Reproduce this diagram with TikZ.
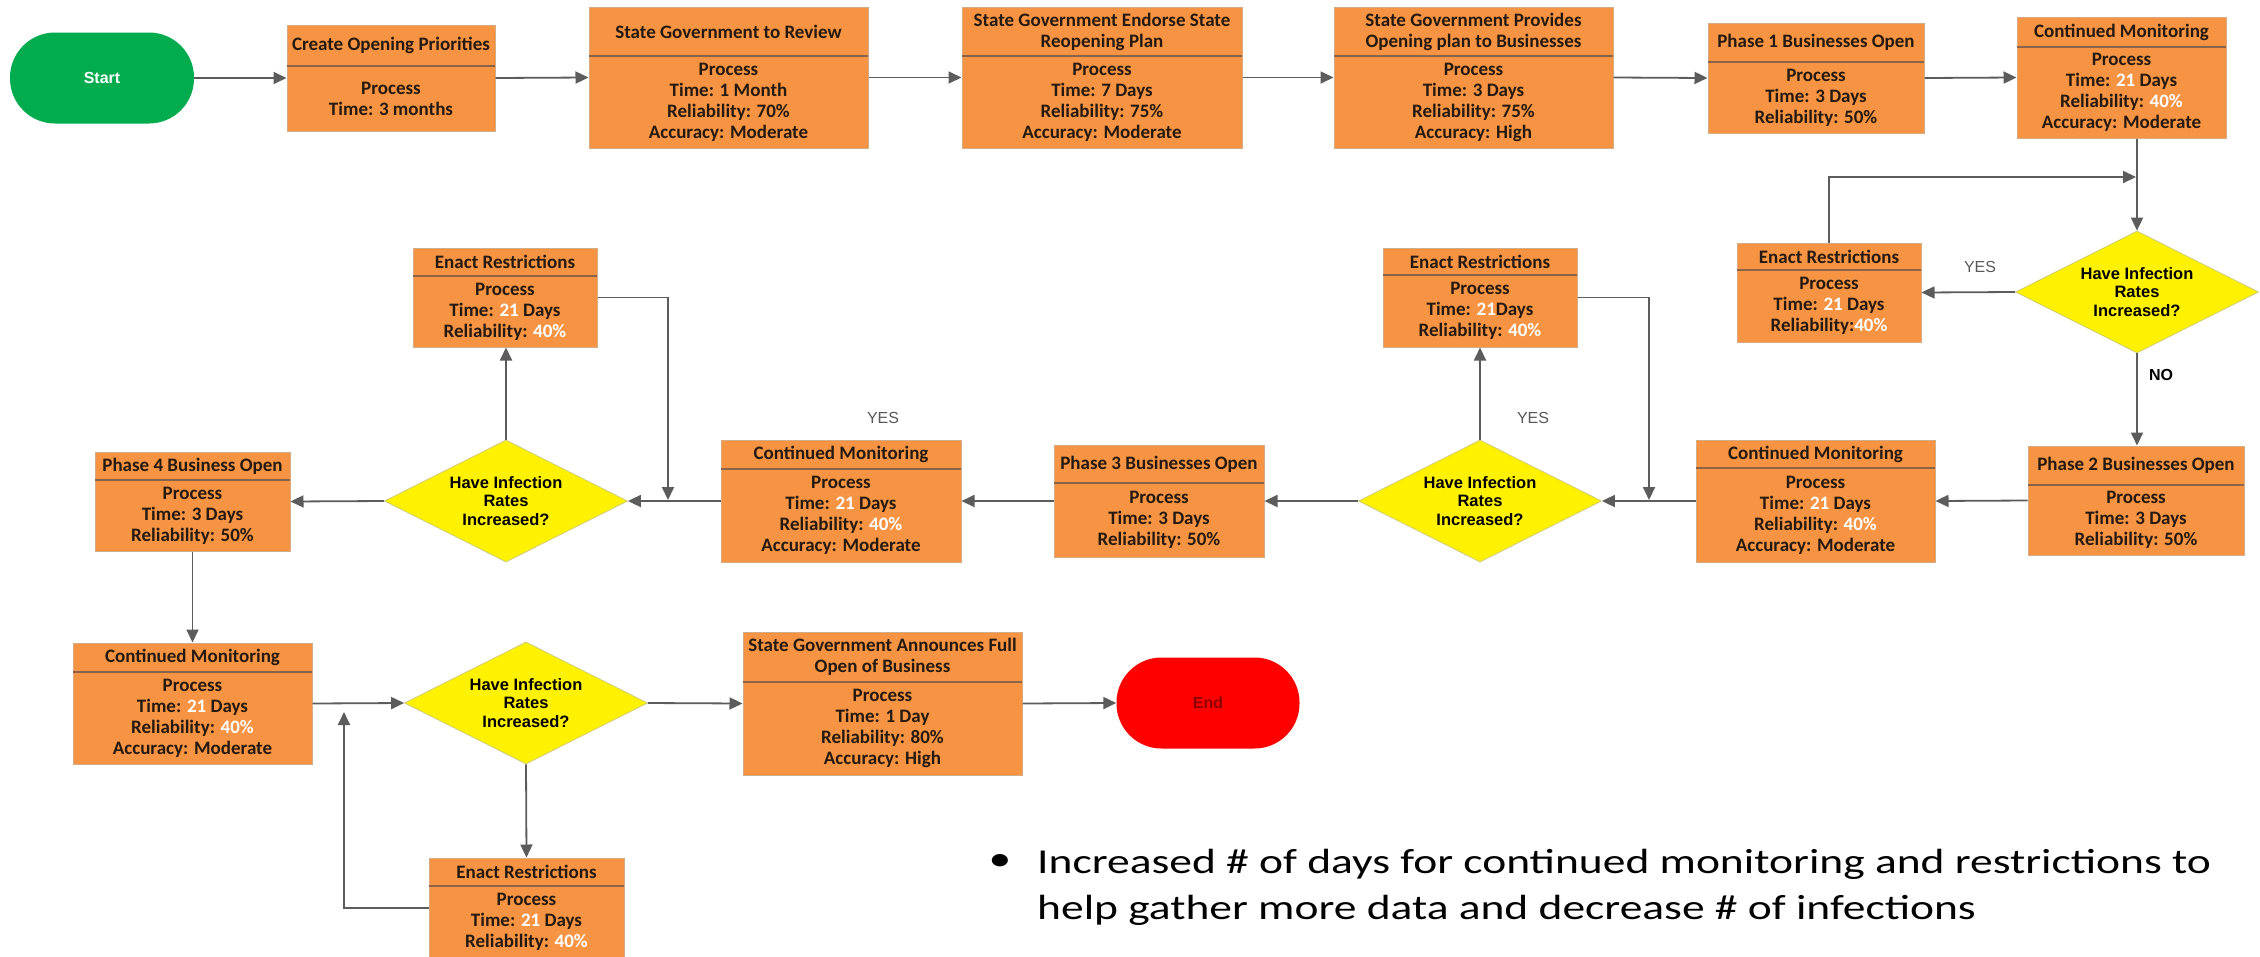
\documentclass[tikz,border=0pt]{standalone}
\usepackage{fontspec}
\setmainfont{Carlito}
\newfontfamily\arialfont{Liberation Sans}
\newfontfamily\notefont[FakeStretch=1.3]{Carlito}
\usetikzlibrary{shapes.geometric,arrows.meta}
\definecolor{boxfill}{RGB}{246,148,68}
\definecolor{boxedge}{RGB}{214,172,134}
\definecolor{divcol}{RGB}{138,100,72}
\definecolor{inkdark}{RGB}{38,26,16}
\definecolor{startgreen}{RGB}{0,172,78}
\definecolor{endred}{RGB}{255,0,0}
\definecolor{endtext}{RGB}{140,0,0}
\definecolor{diamondedge}{RGB}{205,205,120}
\definecolor{flowgray}{RGB}{92,92,92}
\newcommand\wh[1]{\textcolor{white}{#1}}

\begin{document}
\begin{tikzpicture}[x=1pt,y=-1pt,
    procbox/.style={draw=boxedge,fill=boxfill,line width=1pt,inner sep=0pt},
    divline/.style={draw=divcol,line width=1.6pt},
    boxtext/.style={font=\bfseries\fontsize{19}{21}\selectfont,text=inkdark,align=center,inner sep=0pt},
    decision/.style={diamond,aspect=2,draw=diamondedge,fill=yellow,line width=0.8pt,inner sep=0pt,
      minimum width=243pt,minimum height=122pt,align=center,
      font=\arialfont\bfseries\fontsize{16.5}{18.5}\selectfont},
    term/.style={rounded corners=45pt,minimum width=184pt,minimum height=91pt,inner sep=0pt,
      font=\arialfont\bfseries\fontsize{16}{18}\selectfont},
    flow/.style={draw=flowgray,line width=1.8pt,-{Triangle[length=13pt,width=12pt]}},
    answer/.style={font=\arialfont\fontsize{16}{18}\selectfont,text=black!65},
    notetext/.style={font=\notefont\fontsize{35}{46}\selectfont,inner sep=0pt}]
  \path[fill=white,use as bounding box] (0,0) rectangle (2260,956);

  % start and end
  \node[term,fill=startgreen,text=white] (start) at (102,78) {Start};
  \node[term,fill=endred,text=endtext,minimum width=183pt] (end) at (1208,703) {End};

  % process boxes: name/centre x/top/divider/bottom/width/header/body
  \foreach \n/\cx/\tp/\dv/\bt/\bw/\hd/\bd in {
      create/391/25/66/131/208/{Create Opening Priorities}/{Process\\Time: 3 months},
      review/728.5/7/56/148/279/{State Government to Review}/{Process\\Time: 1 Month\\Reliability: 70\%\\Accuracy: Moderate},
      endorse/1102/7/56/148/280/{State Government Endorse State\\Reopening Plan}/{Process\\Time: 7 Days\\Reliability: 75\%\\Accuracy: Moderate},
      provides/1473.5/7/56/148/279/{State Government Provides\\Opening plan to Businesses}/{Process\\Time: 3 Days\\Reliability: 75\%\\Accuracy: High},
      phase1/1816/23/62/133/216/{Phase 1 Businesses Open}/{Process\\Time: 3 Days\\Reliability: 50\%},
      cm1/2121.5/17/47/138/209/{Continued Monitoring}/{Process\\Time: \wh{21} Days\\Reliability: \wh{40\%}\\Accuracy: Moderate},
      er1/1829/243/270/342/184/{Enact Restrictions}/{Process\\Time: \wh{21} Days\\Reliability:\wh{40\%}},
      phase2/2136/446/485/555/216/{Phase 2 Businesses Open}/{Process\\Time: 3 Days\\Reliability: 50\%},
      cm2/1815.5/440/468/562/239/{Continued Monitoring}/{Process\\Time: \wh{21} Days\\Reliability: \wh{40\%}\\Accuracy: Moderate},
      er2/1480/248/275/347/194/{Enact Restrictions}/{Process\\Time: \wh{21}Days\\Reliability: \wh{40\%}},
      phase3/1159/445/483/557/210/{Phase 3 Businesses Open}/{Process\\Time: 3 Days\\Reliability: 50\%},
      cm3/841/440/469/562/240/{Continued Monitoring}/{Process\\Time: \wh{21} Days\\Reliability: \wh{40\%}\\Accuracy: Moderate},
      er3/505/248/276/347/184/{Enact Restrictions}/{Process\\Time: \wh{21} Days\\Reliability: \wh{40\%}},
      phase4/192.5/452/480/551/195/{Phase 4 Business Open}/{Process\\Time: 3 Days\\Reliability: 50\%},
      cm4/192.5/643/672/764/239/{Continued Monitoring}/{Process\\Time: \wh{21} Days\\Reliability: \wh{40\%}\\Accuracy: Moderate},
      full/882.5/632/682/775/279/{State Government Announces Full\\Open of Business}/{Process\\Time: 1 Day\\Reliability: 80\%\\Accuracy: High},
      er4/526.5/858/886/958/195/{Enact Restrictions}/{Process\\Time: \wh{21} Days\\Reliability: \wh{40\%}}}{
    \node[procbox,minimum width=\bw pt,minimum height={(\bt-\tp)*1pt}] (\n) at (\cx,{(\tp+\bt)/2}) {};
    \draw[divline] ({\cx-\bw/2},\dv) -- ({\cx+\bw/2},\dv);
    \node[boxtext] at (\cx,{(\tp+\dv)/2}) {\hd};
    \node[boxtext] at (\cx,{(\dv+\bt)/2}) {\bd};
  }

  % decisions
  \foreach \n/\cx/\cy in {d1/2137/292,d2/1480/501,d3/506/501,d4/526/703}
    \node[decision] (\n) at (\cx,\cy) {Have Infection\\Rates\\Increased?};

  % free ends of the loop-back lines
  \coordinate (j1) at (2136,177);
  \coordinate (j2) at (1649,500);
  \coordinate (j3) at (668,500);
  \coordinate (j4) at (344,712);

  % connectors
  \foreach \src/\dst in {start/create,create/review,review/endorse,endorse/provides,
      provides/phase1,phase1/cm1,cm4/d4,d4/full,full/end}
    \draw[flow] (\src.east) -- (\dst.west);
  \foreach \src/\dst in {d1/er1,phase2/cm2,cm2/d2,d2/phase3,phase3/cm3,cm3/d3,d3/phase4}
    \draw[flow] (\src.west) -- (\dst.east);
  \draw[flow] (cm1.south -| d1.north) -- (d1.north);
  \draw[flow] (d1.south) -- (d1.south |- phase2.north);
  \draw[flow] (d2.north) -- (er2.south);
  \draw[flow] (d3.north) -- (d3.north |- er3.south);
  \draw[flow] (phase4.south) -- (cm4.north);
  \draw[flow] (d4.south) -- (er4.north);
  \draw[flow] (er1.north) |- (j1);
  \draw[flow] (er2.east) -| (j2);
  \draw[flow] (er3.east) -| (j3);
  \draw[flow] (er4.west) -| (j4);

  % answers
  \node[answer] (yes1) at (1980,267) {YES};
  \node[answer] (yes2) at (1533,418) {YES};
  \node[answer] (yes3) at (883,418) {YES};
  \node[answer,text=black,font=\arialfont\bfseries\fontsize{16}{18}\selectfont] (no1) at (2161,375) {NO};

  % note
  \node[notetext] (dot) at (1000,862) {\textbullet};
  \node[notetext,anchor=north west,align=left] (note) at (1037,849)
    {Increased \# of days for continued monitoring and restrictions to\\help gather more data and decrease \# of infections};
\end{tikzpicture}
\end{document}
